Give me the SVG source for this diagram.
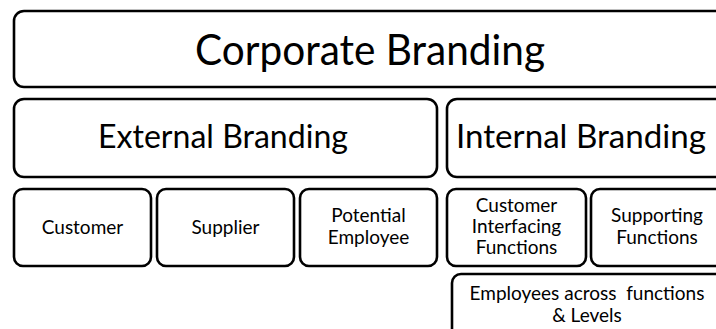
<svg xmlns="http://www.w3.org/2000/svg" width="716" height="329" viewBox="0 0 716 329">
  <style>
    .box { fill: #ffffff; stroke: #000000; stroke-width: 2.6; }
    .t { font-family: Lato, "Open Sans", "Liberation Sans", sans-serif; fill: #000000; text-anchor: middle; }
    .h1 { font-size: 42px; }
    .h2 { font-size: 33px; }
    .h3 { font-size: 19px; }
  </style>
  <rect width="716" height="329" fill="#ffffff"/>

  <g id="corporate-branding">
    <rect class="box" x="14" y="11" width="740" height="76" rx="10"/>
    <text class="t h1" x="370" y="65" textLength="350" lengthAdjust="spacingAndGlyphs">Corporate Branding</text>
  </g>

  <g id="external-branding">
    <rect class="box" x="14" y="99" width="423" height="78" rx="10"/>
    <text class="t h2" x="223" y="148" textLength="250" lengthAdjust="spacingAndGlyphs">External Branding</text>
  </g>

  <g id="internal-branding">
    <rect class="box" x="447" y="99" width="300" height="78" rx="10"/>
    <text class="t h2" x="581" y="148" textLength="250" lengthAdjust="spacingAndGlyphs">Internal Branding</text>
  </g>

  <g id="customer">
    <rect class="box" x="14" y="189" width="137" height="77" rx="9"/>
    <text class="t h3" x="82.5" y="234">Customer</text>
  </g>

  <g id="supplier">
    <rect class="box" x="157" y="189" width="137" height="77" rx="9"/>
    <text class="t h3" x="225.5" y="234">Supplier</text>
  </g>

  <g id="potential-employee">
    <rect class="box" x="300" y="189" width="137" height="77" rx="9"/>
    <text class="t h3" x="368.5" y="222">Potential</text>
    <text class="t h3" x="368.5" y="244">Employee</text>
  </g>

  <g id="customer-interfacing-functions">
    <rect class="box" x="447" y="189" width="139" height="77" rx="9"/>
    <text class="t h3" x="516.5" y="212">Customer</text>
    <text class="t h3" x="516.5" y="233">Interfacing</text>
    <text class="t h3" x="516.5" y="254">Functions</text>
  </g>

  <g id="supporting-functions">
    <rect class="box" x="591" y="189" width="160" height="77" rx="9"/>
    <text class="t h3" x="657" y="222">Supporting</text>
    <text class="t h3" x="657" y="244">Functions</text>
  </g>

  <g id="employees-across-functions">
    <rect class="box" x="452" y="274" width="300" height="80" rx="9"/>
    <text class="t h3" x="587" y="300" xml:space="preserve">Employees across  functions</text>
    <text class="t h3" x="587" y="322">&amp; Levels</text>
  </g>

  <g id="connectors"/>
</svg>
